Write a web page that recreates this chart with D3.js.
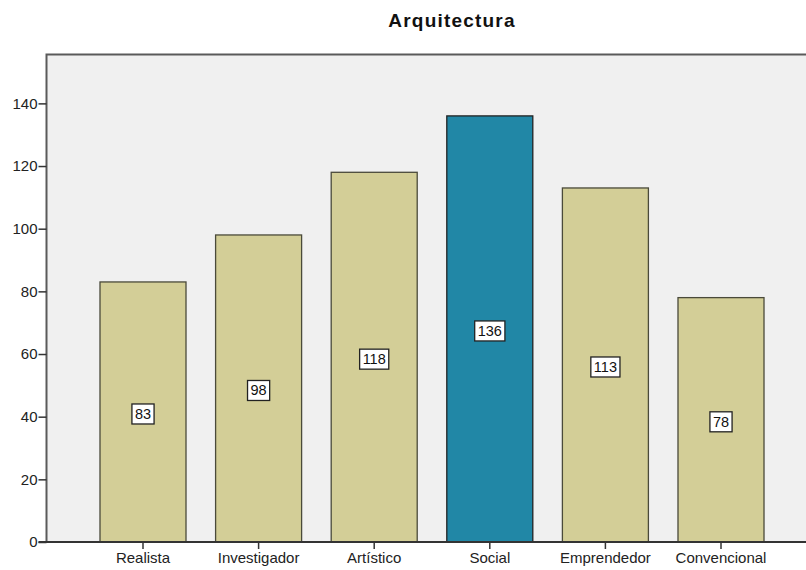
<!DOCTYPE html>
<html><head><meta charset="utf-8">
<script src="https://cdn.jsdelivr.net/npm/d3@7"></script>
<style>body{margin:0;background:#fff}svg{display:block}text{font-family:"Liberation Sans",Arial,sans-serif}</style>
</head><body>
<svg id="c" width="806" height="570"></svg>
<script>
const title = "Arquitectura";
const categories = ["Realista","Investigador","Artístico","Social","Emprendedor","Convencional"];
const values = [83, 98, 118, 136, 113, 78];
const highlight = ["Social"];
const yTicks = [0,20,40,60,80,100,120,140];

const svg = d3.select("#c");
const L = 46.5, T = 54.5, B = 542, R = 812;
const x = d3.scaleBand().domain(categories).range([85.2, 778.8]).paddingInner(0.256).paddingOuter(0.128);
const y = d3.scaleLinear().domain([0, 155.6]).range([B, T]);

svg.append("rect").attr("x", L).attr("y", T).attr("width", R - L).attr("height", B - T)
  .attr("fill", "#f0f0f0").attr("stroke", "#5a5a5a").attr("stroke-width", 2);

const g = svg.append("g");
g.selectAll("rect.bar").data(categories).join("rect").attr("class","bar")
  .attr("x", d => x(d)).attr("width", x.bandwidth())
  .attr("y", (d,i) => y(values[i])).attr("height", (d,i) => y(0) - y(values[i]))
  .attr("fill", d => highlight.includes(d) ? "#2187a6" : "#d3ce97")
  .attr("stroke", d => highlight.includes(d) ? "#222" : "#4a4a3a").attr("stroke-width", 1.3);

// value labels
categories.forEach((c, i) => {
  const cx = x(c) + x.bandwidth()/2, cy = y(values[i]/2) + 2;
  const t = g.append("text").attr("x", cx).attr("y", cy).attr("text-anchor","middle")
    .attr("dominant-baseline","central").attr("font-size", 14.5).attr("fill","#111").text(values[i]);
  const bb = t.node().getBBox();
  g.insert("rect", () => t.node()).attr("x", bb.x - 3).attr("y", cy - 10).attr("width", bb.width + 6).attr("height", 20)
    .attr("fill","#fff").attr("stroke","#222").attr("stroke-width",1.3);
});

// y axis
const ya = svg.append("g").attr("transform", `translate(${L},0)`)
  .call(d3.axisLeft(y).tickValues(yTicks).tickSize(8).tickPadding(1).tickFormat(d3.format("d")));
ya.select(".domain").remove();
ya.selectAll("line").attr("stroke","#333").attr("stroke-width",1.5);
ya.selectAll("text").attr("font-size", 15).attr("fill","#222");

// x axis
const xa = svg.append("g").attr("transform", `translate(0,${B})`)
  .call(d3.axisBottom(x).tickSize(7).tickPadding(3));
xa.select(".domain").remove();
xa.selectAll("line").attr("stroke","#333").attr("stroke-width",1.5);
xa.selectAll("text").attr("font-size", 15).attr("fill","#222");
svg.append("line").attr("x1", L - 8).attr("x2", 806).attr("y1", B).attr("y2", B).attr("stroke","#333").attr("stroke-width",2);

svg.append("text").attr("x", 452).attr("y", 27).attr("text-anchor","middle")
  .attr("font-size", 19).attr("font-weight","bold").attr("letter-spacing", 1.2).attr("fill","#111").text(title);
</script>
</body></html>
